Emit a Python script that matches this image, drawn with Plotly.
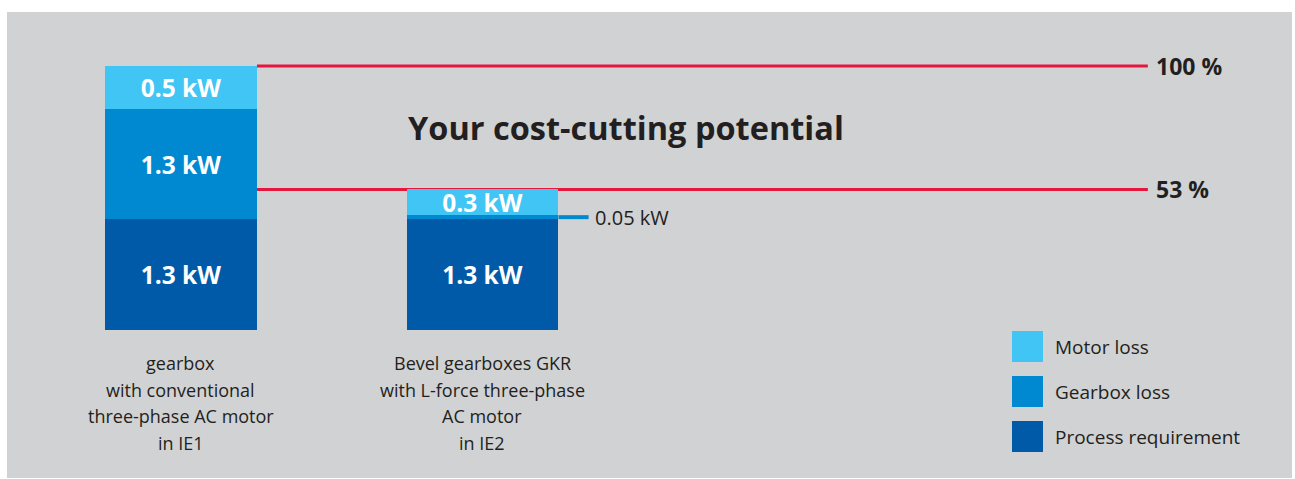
import plotly.graph_objects as go

# ---- data ----
category_lines = [
    ["gearbox", "with conventional", "three-phase AC motor", "in IE1"],
    ["Bevel gearboxes GKR", "with L-force three-phase", "AC motor", "in IE2"],
]
series_names = ["Process requirement", "Gearbox loss", "Motor loss"]
process_kw = [1.3, 1.3]
gearbox_kw = [1.3, 0.05]
motor_kw = [0.5, 0.3]
series_values = [process_kw, gearbox_kw, motor_kw]
series_colors = ["#005aa8", "#0089d0", "#41c5f4"]
title_text = "Your cost-cutting potential"

# ---- layout constants ----
W, H = 1295, 479
TXT = "#231f20"
RED = "#e5173d"
FONT = "Open Sans"
BAR_W = 0.504
X_RANGE = [-0.6003, 3.695]
Y_RANGE = [-1.7497, 3.875]

def px_to_paper_y(py):
    return 1 - py / H

def px_to_paper_x(px):
    return px / W

x_idx = list(range(len(category_lines)))

fig = go.Figure()
for name, vals, col in zip(series_names, series_values, series_colors):
    fig.add_trace(go.Bar(
        x=x_idx, y=vals, name=name, width=BAR_W,
        marker=dict(color=col, line=dict(width=0)),
        text=[f"{v} kW" if v >= 0.1 else "" for v in vals],
        textposition="inside", insidetextanchor="middle",
        textfont=dict(family=FONT, size=24.5, color="white", weight="bold"),
        constraintext="none", showlegend=False, hoverinfo="skip",
    ))

totals = [sum(s[i] for s in series_values) for i in x_idx]
ref_total = totals[0]

shapes = [
    dict(type="rect", xref="paper", yref="paper",
         x0=px_to_paper_x(7), x1=px_to_paper_x(1292),
         y0=px_to_paper_y(478), y1=px_to_paper_y(12),
         fillcolor="#d1d2d4", line=dict(width=0), layer="below"),
]
annotations = []

# reference lines (100 % and relative total of second bar)
line_end = 3.207
for t in totals:
    shapes.append(dict(type="line", xref="x", yref="y",
                       x0=0 + BAR_W / 2, x1=line_end, y0=t, y1=t,
                       line=dict(color=RED, width=3), layer="below"))
    pct = round(100 * t / ref_total)
    annotations.append(dict(x=line_end, y=t, xref="x", yref="y",
                            text=f"<b>{pct} %</b>", showarrow=False,
                            xanchor="left", yanchor="middle", xshift=6,
                            font=dict(family=FONT, size=23, color=TXT)))

# small segment leader label
for i in x_idx:
    base = 0
    for vals, col in zip(series_values, series_colors):
        v = vals[i]
        if v < 0.1:
            yc = base + v / 2
            shapes.append(dict(type="line", xref="x", yref="y",
                               x0=i + BAR_W / 2, x1=i + BAR_W / 2 + 0.1, y0=yc, y1=yc,
                               line=dict(color=col, width=4)))
            annotations.append(dict(x=i + BAR_W / 2 + 0.1, y=yc, xref="x", yref="y",
                                    text=f"{v} kW", showarrow=False,
                                    xanchor="left", yanchor="middle", xshift=4,
                                    font=dict(family=FONT, size=20, color=TXT)))
        base += v

# category labels
line_y = [363, 389.7, 416.4, 443]
for i, lines in enumerate(category_lines):
    for ln, py in zip(lines, line_y):
        annotations.append(dict(x=i, y=px_to_paper_y(py), xref="x", yref="paper",
                                text=ln, showarrow=False, xanchor="center",
                                yanchor="middle",
                                font=dict(family=FONT, size=18, color=TXT)))

# title
annotations.append(dict(x=px_to_paper_x(406), y=px_to_paper_y(128), xref="paper", yref="paper",
                        text=f"<b>{title_text}</b>", showarrow=False,
                        xanchor="left", yanchor="middle",
                        font=dict(family=FONT, size=32.5, color=TXT)))

# legend (top to bottom: motor, gearbox, process)
leg_top = [331, 376, 421]
for (name, col), top in zip(list(zip(series_names, series_colors))[::-1], leg_top):
    shapes.append(dict(type="rect", xref="paper", yref="paper",
                       x0=px_to_paper_x(1012), x1=px_to_paper_x(1043),
                       y0=px_to_paper_y(top + 31), y1=px_to_paper_y(top),
                       fillcolor=col, line=dict(width=0)))
    annotations.append(dict(x=px_to_paper_x(1053), y=px_to_paper_y(top + 16),
                            xref="paper", yref="paper", text=name, showarrow=False,
                            xanchor="left", yanchor="middle",
                            font=dict(family=FONT, size=19, color=TXT)))

fig.update_layout(
    width=W, height=H, autosize=False,
    margin=dict(l=0, r=0, t=0, b=0, pad=0),
    paper_bgcolor="white", plot_bgcolor="white",
    barmode="stack", bargap=0,
    uniformtext=dict(minsize=24, mode="show"),
    xaxis=dict(range=X_RANGE, visible=False, fixedrange=True),
    yaxis=dict(range=Y_RANGE, visible=False, fixedrange=True),
    shapes=shapes, annotations=annotations,
    showlegend=False,
)

fig.write_html("out.html", post_script="document.body.style.margin='0';",
               config={"displayModeBar": False})
